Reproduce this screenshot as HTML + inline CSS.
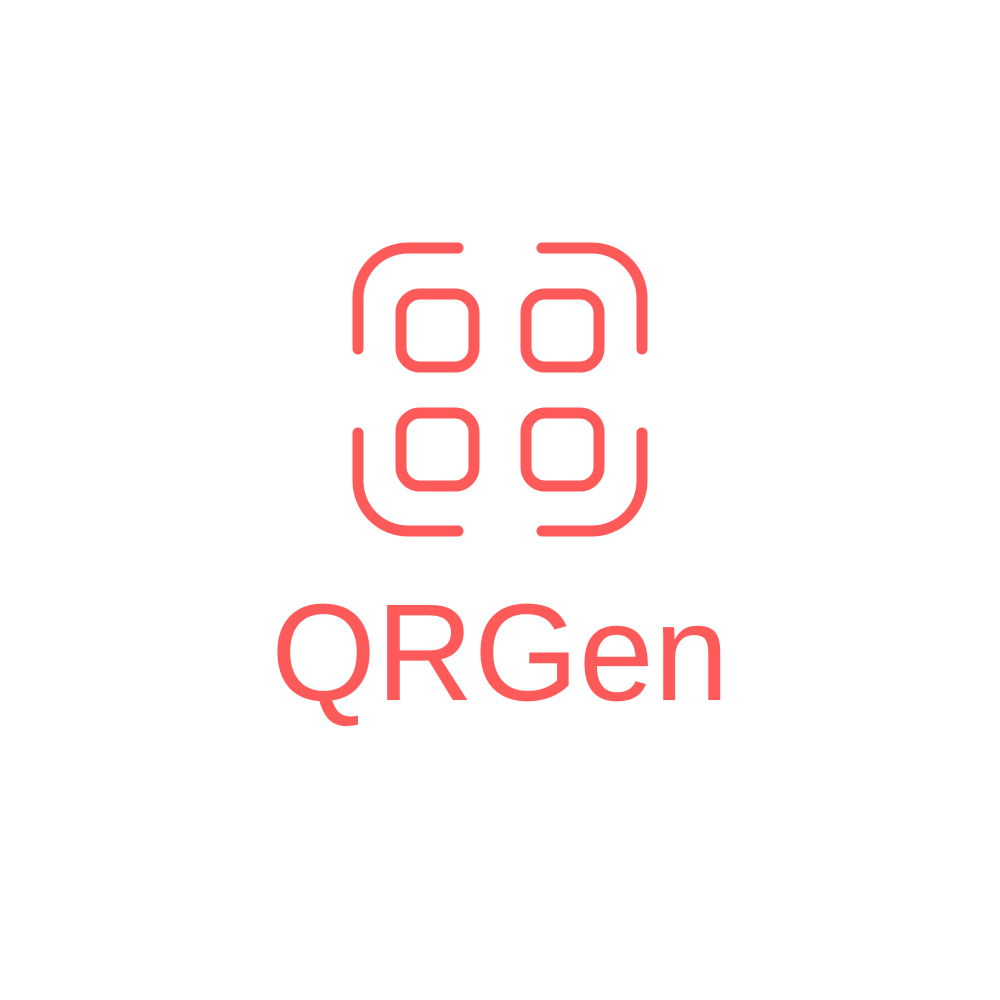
<!DOCTYPE html>
<html>
<head>
<meta charset="utf-8">
<style>
  html,body{margin:0;padding:0;background:#fff;}
  svg{display:block;}
</style>
</head>
<body>
<svg width="1000" height="1000" viewBox="0 0 1000 1000">
  <g fill="none" stroke="#FF5A5A" stroke-width="11" stroke-linecap="round">
    <path d="M358 349 V298 A50 50 0 0 1 408 248 H458"/>
    <path d="M542 248 H592 A50 50 0 0 1 642 298 V349"/>
    <path d="M358 433 V481 A50 50 0 0 0 408 531 H458"/>
    <path d="M542 531 H592 A50 50 0 0 0 642 481 V433"/>
    <rect x="401" y="294" width="73" height="73" rx="19"/>
    <rect x="526" y="294" width="73" height="73" rx="19"/>
    <rect x="401" y="413" width="73" height="73" rx="19"/>
    <rect x="526" y="413" width="73" height="73" rx="19"/>
  </g>
  <text x="500" y="700" text-anchor="middle" font-family="'Liberation Sans', sans-serif" font-size="138" fill="#FF5A5A" textLength="458" lengthAdjust="spacingAndGlyphs">QRGen</text>
</svg>
</body>
</html>
